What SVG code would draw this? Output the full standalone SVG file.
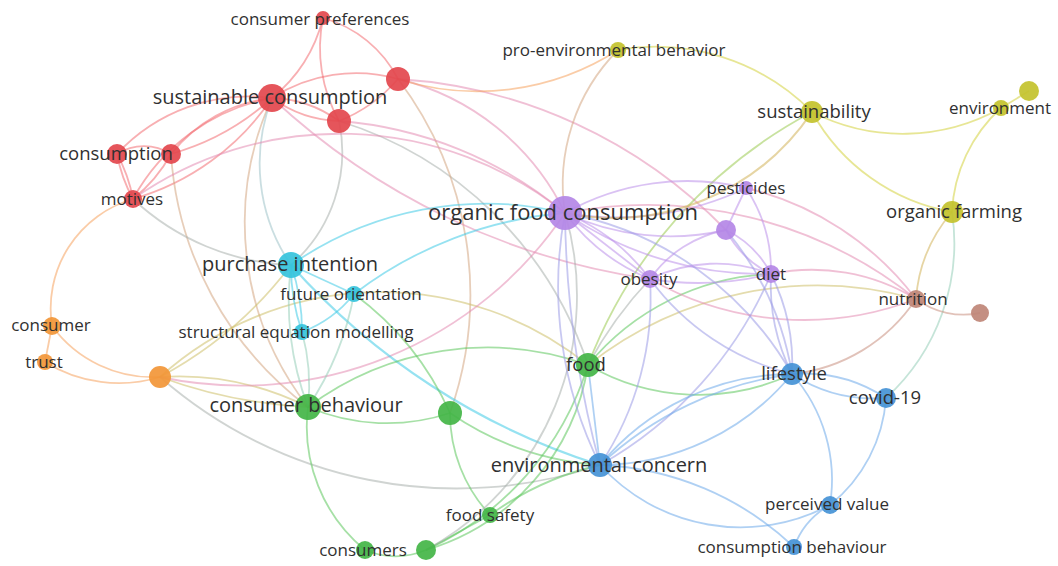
<svg xmlns="http://www.w3.org/2000/svg" width="1058" height="566" viewBox="0 0 1058 566">
<style>
.e{fill:none;stroke-width:1.8;stroke-opacity:0.55}
.r{stroke:#f26d72}.c{stroke:#3fcbe6}.o{stroke:#f5a35e}.g{stroke:#5cc65c}.p{stroke:#bb8fea}.b{stroke:#6eaaea}.y{stroke:#d4d23e}.br{stroke:#c98f80}
.rg{stroke:#d3a682}.gr{stroke:#aab0ad}.pk{stroke:#e38db3}.pb{stroke:#9b9be6}.yb{stroke:#d2b25a}.gy{stroke:#9acb50}.tl{stroke:#95cdb8}.rc{stroke:#9fc2c9}.og{stroke:#cdbf6a}
.n{stroke:none;fill-opacity:0.92}
.nr{fill:#e3474d}.nc{fill:#35c3dc}.no{fill:#f29637}.ng{fill:#43b546}.np{fill:#b487e6}.nb{fill:#4593d6}.ny{fill:#c3c22c}.nbr{fill:#bf8677}
text{font-family:"Open Sans","Liberation Sans",sans-serif;fill:#303030;text-anchor:middle}
.s17{font-size:17px}.s18{font-size:18.5px}.s20{font-size:20px}.s22{font-size:22px}
</style>
<rect width="1058" height="566" fill="#ffffff"/>
<g id="connectors">
<!-- red -->
<path class="e r" d="M323 18 A150 150 0 0 1 272 98"/>
<path class="e r" d="M323 18 A150 150 0 0 0 339 121"/>
<path class="e r" d="M323 18 A120 120 0 0 1 398 79"/>
<path class="e r" d="M272 98 A155 155 0 0 1 398 79"/>
<path class="e r" d="M272 98 A120 120 0 0 1 339 121"/>
<path class="e r" d="M272 98 A120 120 0 0 0 339 121"/>
<path class="e r" d="M398 79 A150 150 0 0 1 339 121"/>
<path class="e r" d="M272 98 A150 150 0 0 0 171 154"/>
<path class="e r" d="M272 98 A250 250 0 0 1 171 154"/>
<path class="e r" d="M272 98 A180 180 0 0 0 117 154"/>
<path class="e r" d="M272 98 A200 200 0 0 0 133 199"/>
<path class="e r" d="M272 98 A250 250 0 0 1 133 199"/>
<path class="e r" d="M117 154 A50 50 0 0 1 171 154"/>
<path class="e r" d="M117 154 A150 150 0 0 1 133 199"/>
<path class="e r" d="M117 154 A150 150 0 0 0 133 199"/>
<path class="e r" d="M171 154 A150 150 0 0 1 133 199"/>
<path class="e rg" d="M171 154 A345 345 0 0 0 308 407"/>
<path class="e rg" d="M272 98 A300 300 0 0 0 308 407"/>
<path class="e rc" d="M272 98 A180 180 0 0 0 291 265"/>
<path class="e gr" d="M339 121 A150 150 0 0 1 291 265"/>
<path class="e gr" d="M339 121 A380 380 0 0 1 588 365"/>
<path class="e rg" d="M398 79 A357 357 0 0 1 450 413"/>
<path class="e pk" d="M398 79 A250 250 0 0 1 565 213"/>
<path class="e pk" d="M339 121 A400 400 0 0 1 565 213"/>
<path class="e pk" d="M398 79 A500 500 0 0 1 726 230"/>
<path class="e pk" d="M272 98 A700 700 0 0 0 650 279"/>
<path class="e pk" d="M133 199 A360 360 0 0 1 565 213"/>
<path class="e gr" d="M133 199 A245 245 0 0 0 291 265"/>
<path class="e o" d="M133 199 A114 114 0 0 0 52 326"/>
<path class="e o" d="M398 79 A260 260 0 0 0 618 50"/>
<!-- orange -->
<path class="e o" d="M52 326 L45 362"/>
<path class="e o" d="M52 326 A125 125 0 0 0 160 377"/>
<path class="e o" d="M45 362 A140 140 0 0 0 160 377"/>
<path class="e og" d="M160 377 A290 290 0 0 1 308 407"/>
<path class="e og" d="M160 377 A500 500 0 0 0 308 407"/>
<path class="e og" d="M160 377 A400 400 0 0 0 291 265"/>
<path class="e og" d="M160 377 A330 330 0 0 1 588 365"/>
<path class="e pk" d="M160 377 A390 390 0 0 0 565 213"/>
<path class="e gr" d="M160 377 A450 450 0 0 0 600 465"/>
<!-- cyan -->
<path class="e c" d="M291 265 L354 294"/>
<path class="e c" d="M291 265 A200 200 0 0 0 302 332"/>
<path class="e c" d="M291 265 A200 200 0 0 1 302 332"/>
<path class="e c" d="M354 294 A120 120 0 0 1 302 332"/>
<path class="e c" d="M291 265 A340 340 0 0 1 565 213"/>
<path class="e c" d="M354 294 A400 400 0 0 1 565 213"/>
<path class="e c" d="M291 265 A690 690 0 0 0 600 465" style="stroke-width:2.2"/>
<path class="e tl" d="M291 265 A300 300 0 0 0 308 407"/>
<path class="e tl" d="M302 332 A200 200 0 0 1 308 407"/>
<path class="e tl" d="M354 294 A300 300 0 0 1 308 407"/>
<path class="e g" d="M354 294 A300 300 0 0 1 450 413"/>
<!-- green -->
<path class="e g" d="M308 407 A200 200 0 0 0 450 413"/>
<path class="e g" d="M308 407 A300 300 0 0 1 588 365"/>
<path class="e g" d="M308 407 A160 160 0 0 0 365 550"/>
<path class="e g" d="M450 413 A150 150 0 0 0 490 515"/>
<path class="e g" d="M450 413 A300 300 0 0 0 600 465"/>
<path class="e g" d="M588 365 A300 300 0 0 1 426 550"/>
<path class="e g" d="M588 365 A230 230 0 0 1 426 550"/>
<path class="e g" d="M490 515 L426 550"/>
<path class="e g" d="M365 550 A80 80 0 0 0 426 550"/>
<path class="e gy" d="M588 365 A480 480 0 0 1 812 112"/>
<path class="e g" d="M588 365 A250 250 0 0 1 771 274"/>
<path class="e og" d="M588 365 A370 370 0 0 1 916 299"/>
<path class="e g" d="M588 365 A220 220 0 0 0 792 374"/>
<path class="e b" d="M588 365 L600 465"/>
<path class="e g" d="M490 515 A300 300 0 0 1 600 465"/>
<path class="e gr" d="M426 550 A290 290 0 0 0 565 213"/>
<!-- purple -->
<path class="e p" d="M565 213 A250 250 0 0 1 746 188"/>
<path class="e p" d="M565 213 A300 300 0 0 0 746 188"/>
<path class="e p" d="M565 213 A250 250 0 0 0 726 230"/>
<path class="e p" d="M565 213 L650 279"/>
<path class="e p" d="M565 213 A200 200 0 0 1 650 279"/>
<path class="e p" d="M565 213 A200 200 0 0 0 650 279"/>
<path class="e p" d="M565 213 A350 350 0 0 0 771 274"/>
<path class="e pb" d="M565 213 A330 330 0 0 1 792 374"/>
<path class="e pb" d="M565 213 A400 400 0 0 0 600 465"/>
<path class="e pb" d="M565 213 A1000 1000 0 0 0 600 465"/>
<path class="e pk" d="M565 213 A430 430 0 0 1 916 299"/>
<path class="e yb" d="M565 213 A240 240 0 0 0 812 112" style="stroke-width:2.2"/>
<path class="e rg" d="M618 50 A190 190 0 0 0 565 213"/>
<path class="e p" d="M746 188 L726 230"/>
<path class="e p" d="M746 188 A150 150 0 0 1 771 274"/>
<path class="e p" d="M726 230 A100 100 0 0 0 771 274"/>
<path class="e p" d="M726 230 A100 100 0 0 1 771 274"/>
<path class="e p" d="M726 230 A120 120 0 0 0 650 279"/>
<path class="e p" d="M650 279 A150 150 0 0 1 771 274"/>
<path class="e p" d="M650 279 A300 300 0 0 0 771 274"/>
<path class="e pb" d="M650 279 A250 250 0 0 0 792 374"/>
<path class="e pb" d="M650 279 A300 300 0 0 1 600 465"/>
<path class="e gr" d="M650 279 A400 400 0 0 0 588 365"/>
<path class="e pk" d="M650 279 A310 310 0 0 0 916 299"/>
<path class="e pb" d="M771 274 A200 200 0 0 0 792 374"/>
<path class="e pb" d="M771 274 A200 200 0 0 1 792 374"/>
<path class="e pb" d="M771 274 A400 400 0 0 1 600 465"/>
<path class="e pk" d="M771 274 A200 200 0 0 1 916 299"/>
<path class="e pb" d="M726 230 A300 300 0 0 1 792 374"/>
<path class="e pk" d="M746 188 A300 300 0 0 1 916 299"/>
<!-- yellow -->
<path class="e y" d="M618 50 A220 220 0 0 1 812 112"/>
<path class="e y" d="M812 112 A200 200 0 0 0 1001 108"/>
<path class="e y" d="M812 112 A200 200 0 0 0 952 212"/>
<path class="e y" d="M1001 108 L1029 91"/>
<path class="e y" d="M1001 108 A150 150 0 0 0 952 212"/>
<path class="e yb" d="M952 212 A150 150 0 0 0 916 299"/>
<path class="e tl" d="M952 212 A210 210 0 0 1 886 398"/>
<!-- brown -->
<path class="e br" d="M916 299 A80 80 0 0 0 980 313"/>
<path class="e br" d="M916 299 A170 170 0 0 1 792 374"/>
<!-- blue -->
<path class="e b" d="M792 374 A150 150 0 0 1 886 398"/>
<path class="e b" d="M792 374 A150 150 0 0 0 886 398"/>
<path class="e b" d="M792 374 A250 250 0 0 0 600 465"/>
<path class="e b" d="M792 374 A350 350 0 0 0 600 465"/>
<path class="e b" d="M792 374 A250 250 0 0 1 600 465"/>
<path class="e b" d="M792 374 A160 160 0 0 1 830 505"/>
<path class="e b" d="M886 398 A150 150 0 0 1 830 505"/>
<path class="e b" d="M600 465 A190 190 0 0 0 830 505"/>
<path class="e b" d="M600 465 A300 300 0 0 1 794 547"/>
<path class="e b" d="M830 505 A80 80 0 0 0 794 547"/>
</g>
<g id="n-consumer-preferences"><circle class="n nr" cx="323" cy="18" r="7"/><text class="s17" x="320" y="25">consumer preferences</text></g>
<g id="n-red-a"><circle class="n nr" cx="398" cy="79" r="12"/></g>
<g id="n-red-b"><circle class="n nr" cx="339" cy="121" r="12"/></g>
<g id="n-sustainable-consumption"><circle class="n nr" cx="272" cy="98" r="14"/><text class="s20" x="270" y="104">sustainable consumption</text></g>
<g id="n-red-c"><circle class="n nr" cx="171" cy="154" r="10"/></g>
<g id="n-consumption"><circle class="n nr" cx="117" cy="154" r="10"/><text class="s18" x="116" y="160">consumption</text></g>
<g id="n-motives"><circle class="n nr" cx="133" cy="199" r="9"/><text class="s17" x="132" y="205">motives</text></g>
<g id="n-purchase-intention"><circle class="n nc" cx="291" cy="265" r="13"/><text class="s20" x="290" y="271">purchase intention</text></g>
<g id="n-future-orientation"><circle class="n nc" cx="354" cy="294" r="8"/><text class="s17" x="351" y="300">future orientation</text></g>
<g id="n-sem"><circle class="n nc" cx="302" cy="332" r="8"/><text class="s17" x="296" y="338">structural equation modelling</text></g>
<g id="n-consumer"><circle class="n no" cx="52" cy="326" r="9"/><text class="s17" x="51" y="331">consumer</text></g>
<g id="n-trust"><circle class="n no" cx="45" cy="362" r="8"/><text class="s17" x="44" y="368">trust</text></g>
<g id="n-orange-a"><circle class="n no" cx="160" cy="377" r="11"/></g>
<g id="n-consumer-behaviour"><circle class="n ng" cx="308" cy="407" r="13"/><text class="s20" x="306" y="412">consumer behaviour</text></g>
<g id="n-green-a"><circle class="n ng" cx="450" cy="413" r="12"/></g>
<g id="n-food"><circle class="n ng" cx="588" cy="365" r="12"/><text class="s18" x="586" y="371">food</text></g>
<g id="n-food-safety"><circle class="n ng" cx="490" cy="515" r="8"/><text class="s17" x="490" y="521">food safety</text></g>
<g id="n-consumers"><circle class="n ng" cx="365" cy="550" r="9"/><text class="s17" x="363" y="556">consumers</text></g>
<g id="n-green-b"><circle class="n ng" cx="426" cy="550" r="10"/></g>
<g id="n-organic-food-consumption"><circle class="n np" cx="565" cy="213" r="17"/><text class="s22" x="563" y="220">organic food consumption</text></g>
<g id="n-pesticides"><circle class="n np" cx="746" cy="188" r="7"/><text class="s17" x="746" y="194">pesticides</text></g>
<g id="n-purple-a"><circle class="n np" cx="726" cy="230" r="10"/></g>
<g id="n-obesity"><circle class="n np" cx="650" cy="279" r="9"/><text class="s17" x="649" y="285">obesity</text></g>
<g id="n-diet"><circle class="n np" cx="771" cy="274" r="9"/><text class="s17" x="771" y="280">diet</text></g>
<g id="n-nutrition"><circle class="n nbr" cx="916" cy="299" r="9"/><text class="s17" x="913" y="305">nutrition</text></g>
<g id="n-brown-a"><circle class="n nbr" cx="980" cy="313" r="9"/></g>
<g id="n-pro-environmental-behavior"><circle class="n ny" cx="618" cy="50" r="8"/><text class="s17" x="614" y="56">pro-environmental behavior</text></g>
<g id="n-sustainability"><circle class="n ny" cx="812" cy="112" r="11"/><text class="s18" x="814" y="118">sustainability</text></g>
<g id="n-yellow-a"><circle class="n ny" cx="1029" cy="91" r="10"/></g>
<g id="n-environment"><circle class="n ny" cx="1001" cy="108" r="8"/><text class="s17" x="1000" y="114">environment</text></g>
<g id="n-organic-farming"><circle class="n ny" cx="952" cy="212" r="11"/><text class="s18" x="954" y="218">organic farming</text></g>
<g id="n-lifestyle"><circle class="n nb" cx="792" cy="374" r="11"/><text class="s18" x="794" y="380">lifestyle</text></g>
<g id="n-covid-19"><circle class="n nb" cx="886" cy="398" r="10"/><text class="s18" x="885" y="404">covid-19</text></g>
<g id="n-environmental-concern"><circle class="n nb" cx="600" cy="465" r="12"/><text class="s20" x="599" y="472">environmental concern</text></g>
<g id="n-perceived-value"><circle class="n nb" cx="830" cy="505" r="9"/><text class="s17" x="827" y="510">perceived value</text></g>
<g id="n-consumption-behaviour"><circle class="n nb" cx="794" cy="547" r="8"/><text class="s17" x="792" y="553">consumption behaviour</text></g>
</svg>
